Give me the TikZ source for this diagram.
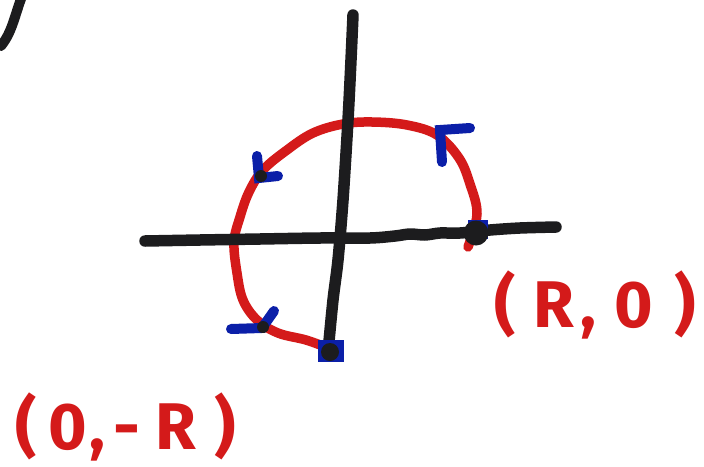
\documentclass[tikz,border=0pt]{standalone}
\usepackage{fontspec}
\usetikzlibrary{calc}
\newfontfamily\handfont{Fira Sans}
\definecolor{ink}{HTML}{1C1C1E}
\definecolor{redink}{HTML}{D41A1A}
\definecolor{blueink}{HTML}{0B1FA8}
\tikzset{
  axisline/.style={draw=ink, line width=11.5pt, line cap=round, line join=round},
  curveline/.style={draw=redink, line width=9.5pt, line cap=round, line join=round},
  arrowmark/.style={draw=blueink, line width=10pt, line cap=round, line join=miter},
  labeltext/.style={text=redink, font=\handfont\bfseries\fontsize{66}{66}\selectfont, inner sep=0pt, anchor=base west}
}
\begin{document}
\begin{tikzpicture}[x=1pt, y=-1pt]
\useasboundingbox (0,0) rectangle (704,466);
% top-left stray stroke
\draw[axisline, line width=10pt] (1,46) .. controls (12,32) and (14,18) .. (22,-4);
% red curve (R,0) -> counterclockwise -> (0,-R)
\draw[curveline] plot[smooth, tension=0.6] coordinates {
  (468,247) (477,214) (470,184) (459,158) (437,135) (407,125) (372,122)
  (343,124) (313,133) (287,150) (263,170) (249,192) (240,217) (234,242)
  (237,273) (243,300) (257,320) (278,333) (306,340) (328,348)};
% horizontal axis (slightly wavy)
\draw[axisline] plot[smooth, tension=0.5] coordinates {
  (145,241) (200,240) (260,239) (320,238) (370,238) (395,236) (410,234)
  (425,235) (440,233) (460,233) (490,230) (520,228) (556,227)};
% vertical axis
\draw[axisline] plot[smooth, tension=0.5] coordinates {
  (353,15) (351,60) (348,120) (343,200) (338,260) (333,300) (328,352)};
% endpoint dots
\coordinate (rpt) at (476,233);
\coordinate (bpt) at (330,352);
\fill[blueink] ($(rpt)+(-8,-13)$) rectangle ($(rpt)+(12,6)$);
\fill[ink] (rpt) circle (12.5pt);
\fill[blueink] (318,340) rectangle (344,362);
\fill[ink] (bpt) circle (9pt);
% arrow marks (blue)
\draw[arrowmark] (470,128) -- (440,130) -- (442,162);
\draw[arrowmark] (257,156) -- (259,178) -- (278,176);
\draw[arrowmark] (231,329) -- (262,328) -- (274,311);
\fill[ink] (261,176) circle (6pt);
\fill[ink] (263,327) circle (6pt);
% labels
\node[labeltext] (lblR) at (494,327) {(\hspace{18pt}R\hspace{6pt},\hspace{18pt}0\hspace{22pt})};
\node[labeltext] (lblB) at (15,449) {(\hspace{12pt}0\hspace{2pt},\hspace{8pt}-\hspace{16pt}R\hspace{18pt})};
\end{tikzpicture}
\end{document}
